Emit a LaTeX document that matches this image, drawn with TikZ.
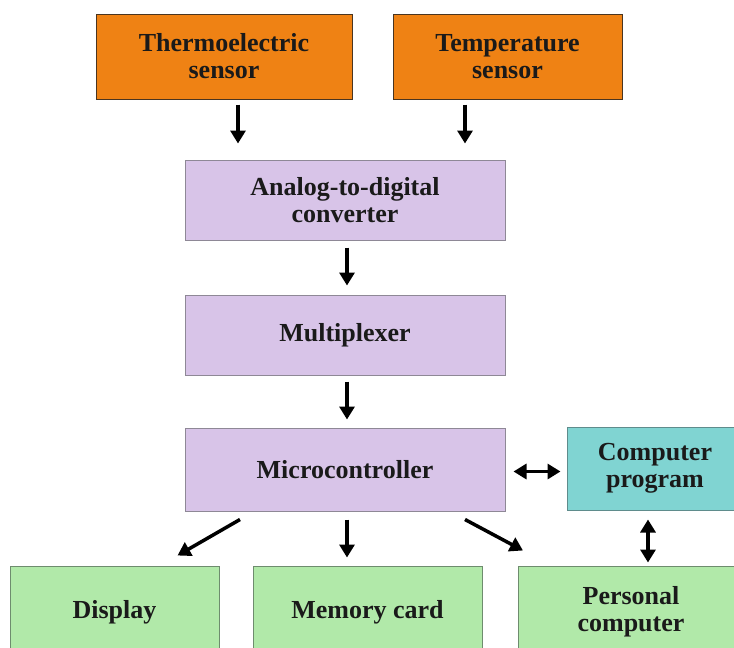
\documentclass[tikz,border=0pt]{standalone}
\usepackage{fontspec}
\setmainfont{Liberation Serif}
\usetikzlibrary{arrows.meta}
\definecolor{sensorfill}{HTML}{EF8214}
\definecolor{sensordraw}{HTML}{4A3520}
\definecolor{procfill}{HTML}{D8C4E8}
\definecolor{procdraw}{HTML}{8E8896}
\definecolor{progfill}{HTML}{80D4D2}
\definecolor{progdraw}{HTML}{5F8C8C}
\definecolor{outfill}{HTML}{B1E9A9}
\definecolor{outdraw}{HTML}{6E8C6E}
\definecolor{labeltext}{HTML}{1A1A1A}
\tikzstyle{base-node}=[rectangle,inner sep=0pt,line width=1pt,align=center,text=labeltext,font=\fontsize{26}{27}\selectfont\bfseries]
\tikzstyle{sensor-node}=[base-node,fill=sensorfill,draw=sensordraw,minimum height=85pt]
\tikzstyle{proc-node}=[base-node,fill=procfill,draw=procdraw,minimum width=320pt]
\tikzstyle{prog-node}=[base-node,fill=progfill,draw=progdraw,minimum width=176pt,minimum height=83pt]
\tikzstyle{out-node}=[base-node,fill=outfill,draw=outdraw,minimum height=92pt]
\tikzstyle{black-line}=[draw=black,line width=3.5pt]

\begin{document}
\begin{tikzpicture}[x=1pt,y=-1pt]
	\useasboundingbox[fill=white] (0,0) rectangle (734,648);
	\begin{scope}
	\node (thermo)[sensor-node,minimum width=256pt] at (224,56.5) {Thermoelectric\\sensor};
	\node (temp)[sensor-node,minimum width=229pt] at (507.5,56.5) {Temperature\\sensor};

	\node (adc)[proc-node,minimum height=80pt] at (345,200) {Analog-to-digital\\converter};
	\node (mux)[proc-node,minimum height=80pt] at (345,335) {Multiplexer};
	\node (micro)[proc-node,minimum height=83pt] at (345,469.5) {Microcontroller};

	\node (prog)[prog-node] at (655,468.5) {Computer\\program};

	\node (display)[out-node,minimum width=209pt] at (114.5,612) {Display};
	\node (memory)[out-node,minimum width=229pt] at (367.5,612) {Memory card};
	\node (pc)[out-node,minimum width=226pt] at (631,612) {Personal\\computer};
	\end{scope}

	\begin{scope}[>={Triangle[length=13pt,width=15pt]}, every edge/.style=black-line]
	\path [->] ([xshift=14pt]thermo.south) edge[shorten <=5pt,shorten >=16pt] ([xshift=14pt]thermo.south |- adc.north);
	\path [->] ([xshift=-42.5pt]temp.south) edge[shorten <=5pt,shorten >=16pt] ([xshift=-42.5pt]temp.south |- adc.north);
	\path [->] ([xshift=2pt]adc.south) edge[shorten <=7pt,shorten >=9pt] ([xshift=2pt]mux.north);
	\path [->] ([xshift=2pt]mux.south) edge[shorten <=6pt,shorten >=8pt] ([xshift=2pt]micro.north);
	\path [->] ([shift={(-105,8)}]micro.south) edge ([shift={(63,-10)}]display.north);
	\path [->] ([xshift=2pt]micro.south) edge[shorten <=8pt,shorten >=8pt] ([xshift=2pt]micro.south |- memory.north);
	\path [->] ([shift={(120,8)}]micro.south) edge ([shift={(-108,-15)}]pc.north);
	\path [<->] ([yshift=-2pt]micro.east) edge[shorten <=8pt,shorten >=6pt] ([yshift=-2pt]micro.east -| prog.west);
	\path [<->] ([xshift=-7pt]prog.south) edge[shorten <=9pt,shorten >=3pt] ([xshift=-7pt]prog.south |- pc.north);
	\end{scope}
\end{tikzpicture}
\end{document}
